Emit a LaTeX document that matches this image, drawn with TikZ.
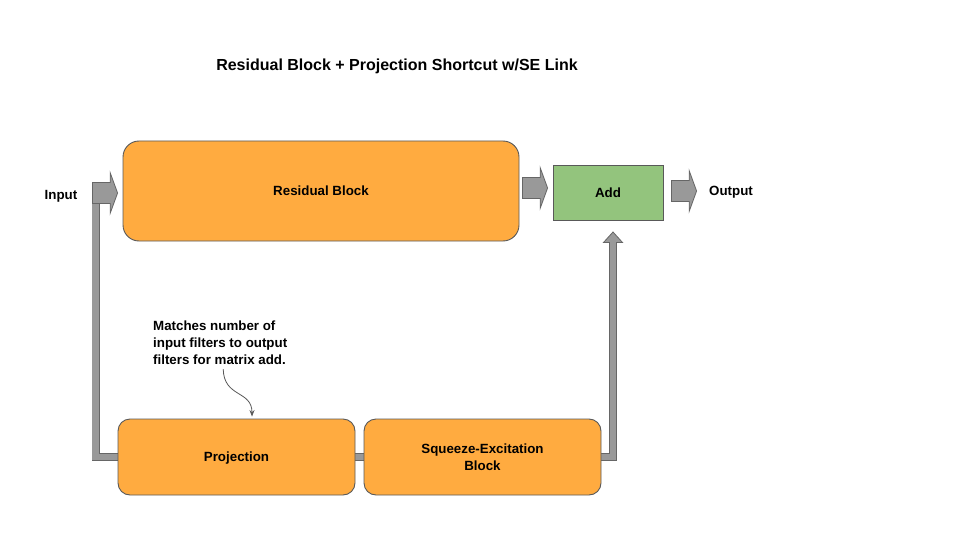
\documentclass[tikz,border=0pt]{standalone}
\usepackage{fontspec}
\setmainfont{Liberation Sans}
\usetikzlibrary{shapes.arrows,calc,arrows.meta}
\definecolor{orangebox}{HTML}{FFAB40}
\definecolor{greenbox}{HTML}{93C47D}
\definecolor{edgecol}{HTML}{595959}
\definecolor{barfill}{HTML}{999999}
\definecolor{bardraw}{HTML}{666666}
\pgfdeclarelayer{bg}
\pgfsetlayers{bg,main}
\begin{document}
\begin{tikzpicture}[x=1pt,y=-1pt,
  lbl/.style={font=\fontsize{13.33}{17}\selectfont\bfseries, text=black},
  boxbase/.style={lbl, draw=edgecol, line width=0.9pt, inner sep=0pt, align=center},
  orangebox/.style={boxbase, fill=orangebox, rounded corners=12pt},
  greenbox/.style={boxbase, fill=greenbox},
  blockarr/.style={single arrow, draw=bardraw, fill=barfill, line width=0.8pt, inner sep=0pt,
    single arrow head extend=10pt, single arrow tip angle=140, minimum height=25pt, anchor=tip},
  bar/.style={draw=bardraw, line width=0.8pt, double=barfill, double distance=6.4pt},
  headstyle/.style={draw=bardraw, fill=barfill, line width=0.8pt, line join=miter},
  notearrow/.style={draw=edgecol, line width=0.8pt, -{Stealth[length=6.5pt,width=5pt]}},
  plain/.style={lbl, inner sep=0pt, text depth=0pt}
]
\useasboundingbox (0,0) rectangle (960,540);

% title
\node[plain, font=\fontsize{16}{19}\selectfont\bfseries] (title) at (397,65) {Residual Block + Projection Shortcut w/SE Link};

% boxes
\node[orangebox, text depth=0pt, rounded corners=16pt, minimum width=396pt, minimum height=100pt] (res) at (321,191) {Residual Block};
\node[greenbox, text depth=0pt, minimum width=110pt, minimum height=55pt] (add) at (608,192.5) {Add};
\node[orangebox, text depth=0pt, minimum width=237pt, minimum height=76pt] (proj) at (236.5,457) {Projection};
\node[orangebox, minimum width=237pt, minimum height=76pt] (se) at (482.5,457) {Squeeze-Excitation\\Block};

% labels
\node[plain] (inlbl) at (61,195) {Input};
\node[plain] (outlbl) at (731,191) {Output};
\node[lbl, inner sep=0pt, anchor=north west, align=left] (note) at (153,321) {Matches number of\\input filters to output\\filters for matrix add.};

% block arrows
\node[blockarr] (inarr) at (118,193) {\rule{0pt}{20pt}};
\node[blockarr] (resarr) at (548,188) {\rule{0pt}{20pt}};
\node[blockarr] (outarr) at (697,191) {\rule{0pt}{20pt}};

% shortcut bars (behind)
\coordinate (uptip) at (613,232);
\begin{pgfonlayer}{bg}
\draw[headstyle] (uptip) -- ++(9.5,10.5) -- ++(-19,0) -- cycle;
\draw[bar] ($(inarr.tail)+(3.5,-5)$) |- (proj.west);
\draw[bar] (proj.east) -- (se.east -| se.west);
\draw[bar] (se.east) -| ($(uptip)+(0,9.8)$);
\end{pgfonlayer}

% note arrow
\draw[notearrow] ($(note.south)+(3,4)$) .. controls (224,398) and (252,390) .. ($(proj.north)+(15.5,-2)$);
\end{tikzpicture}
\end{document}
